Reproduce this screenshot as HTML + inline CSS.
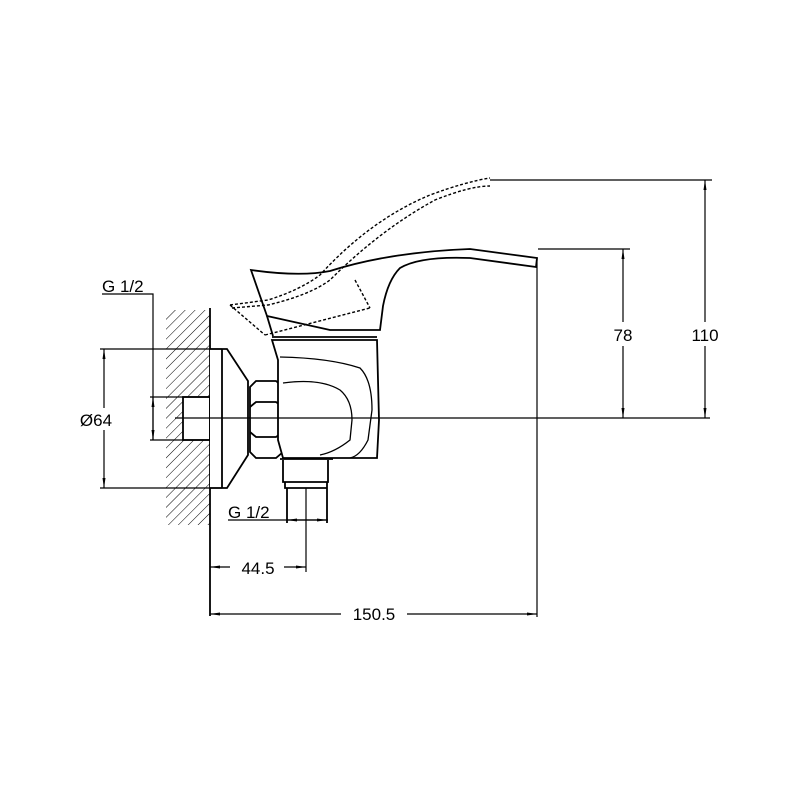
<!DOCTYPE html>
<html><head><style>html,body{margin:0;padding:0;background:#fff}svg{display:block}</style></head>
<body>
<svg width="800" height="800" viewBox="0 0 800 800" xmlns="http://www.w3.org/2000/svg" font-family="Liberation Sans, sans-serif">
<defs>
<pattern id="h" patternUnits="userSpaceOnUse" width="7" height="7" patternTransform="rotate(45)">
<line x1="0" y1="0" x2="0" y2="7" stroke="#000" stroke-width="1"/>
</pattern>
<marker id="a" viewBox="0 0 10 4" refX="10" refY="2" markerWidth="10" markerHeight="4" orient="auto-start-reverse" markerUnits="userSpaceOnUse">
<path d="M10,2 L0,0.5 L0,3.5 Z" fill="#000"/>
</marker>
</defs>
<rect width="800" height="800" fill="#fff"/>
<g fill="none" stroke="#000" stroke-width="1.8">
<rect x="166" y="310" width="44" height="215" fill="url(#h)" stroke="none"/>
<rect x="183" y="397" width="27" height="43" fill="#fff" stroke="#000"/>
<line x1="210" y1="308" x2="210" y2="616"/>
<path d="M210,349 H227 L248,381 V455 L227,488 H210" fill="#fff"/>
<line x1="222" y1="349" x2="222" y2="488"/>
<path d="M250,387 L256,381 H276 L283,387 V452 L276,458 H256 L250,452 Z" fill="#fff"/>
<path d="M250,407 L256,402 H276 L283,407 M250,432 L256,437 H276 L283,432"/>
<path d="M272,340 H377 L379,420 L377,458 H283 L278,440 V360 Z" fill="#fff"/>
<path d="M280,357 Q330,358 360,368 Q372,380 372,410 L368,440 Q360,456 350,458" stroke-width="1.3"/>
<path d="M283,383 Q320,378 340,390 Q352,400 352,420 L350,440 Q335,452 320,455" stroke-width="1.3"/>
<line x1="272" y1="337" x2="377" y2="337"/>
<path d="M280,459 H333 M283,460 V482 H328 V460 M285,482 V488 H327 V482 M287,488 V523 M327,488 V523"/>
<line x1="306" y1="488" x2="306" y2="572" stroke-width="1.2"/>
<path d="M251,270 Q300,277 330,271 Q390,252 470,249 L537,258 L536,267 L470,258 Q420,256 400,268 Q388,280 383,306 L380,330 H330 L267,316 Z" fill="#fff"/>
<path d="M267,316 L273,336"/>
<g stroke-dasharray="3,2" stroke-width="1.4">
<path d="M230,305 L268,300 Q300,290 320,275 Q370,220 430,195 Q465,182 490,178"/>
<path d="M232,308 L268,305 Q310,295 330,280 Q380,230 435,200 Q470,186 490,186"/>
<path d="M230,305 L265,335"/>
<path d="M265,335 L370,308"/>
<path d="M355,280 L370,308"/>
</g>
<line x1="175" y1="418" x2="710" y2="418" stroke-width="1.2"/>
</g>
<g fill="none" stroke="#000" stroke-width="1.2">
<line x1="490" y1="180" x2="712" y2="180"/>
<line x1="538" y1="249" x2="630" y2="249"/>
<line x1="537" y1="258" x2="537" y2="617"/>
<line x1="100" y1="349" x2="222" y2="349"/>
<line x1="100" y1="488" x2="222" y2="488"/>
<line x1="150" y1="397" x2="210" y2="397"/>
<line x1="150" y1="440" x2="210" y2="440"/>
<line x1="705" y1="180" x2="705" y2="418" marker-start="url(#a)" marker-end="url(#a)"/>
<line x1="623" y1="249" x2="623" y2="418" marker-start="url(#a)" marker-end="url(#a)"/>
<line x1="104" y1="349" x2="104" y2="488" marker-start="url(#a)" marker-end="url(#a)"/>
<path d="M102,294 H153 V440"/>
<line x1="153" y1="397" x2="153" y2="440" marker-start="url(#a)" marker-end="url(#a)"/>
<line x1="228" y1="520" x2="328" y2="520"/>
<line x1="287" y1="520" x2="327" y2="520" marker-start="url(#a)" marker-end="url(#a)"/>
<line x1="210" y1="567" x2="306" y2="567" marker-start="url(#a)" marker-end="url(#a)"/>
<line x1="210" y1="614" x2="537" y2="614" marker-start="url(#a)" marker-end="url(#a)"/>
</g>
<g font-size="17" fill="#000">
<rect x="608" y="322" width="30" height="24" fill="#fff"/>
<text x="623" y="341" text-anchor="middle">78</text>
<rect x="686" y="322" width="40" height="24" fill="#fff"/>
<text x="705" y="341" text-anchor="middle">110</text>
<rect x="74" y="408" width="42" height="22" fill="#fff"/>
<text x="96" y="426" text-anchor="middle">Ø64</text>
<text x="102" y="292">G 1/2</text>
<text x="228" y="518">G 1/2</text>
<rect x="230" y="557" width="54" height="20" fill="#fff"/>
<text x="258" y="574" text-anchor="middle">44.5</text>
<rect x="341" y="603" width="66" height="22" fill="#fff"/>
<text x="374" y="620" text-anchor="middle">150.5</text>
</g>
</svg>
</body></html>
